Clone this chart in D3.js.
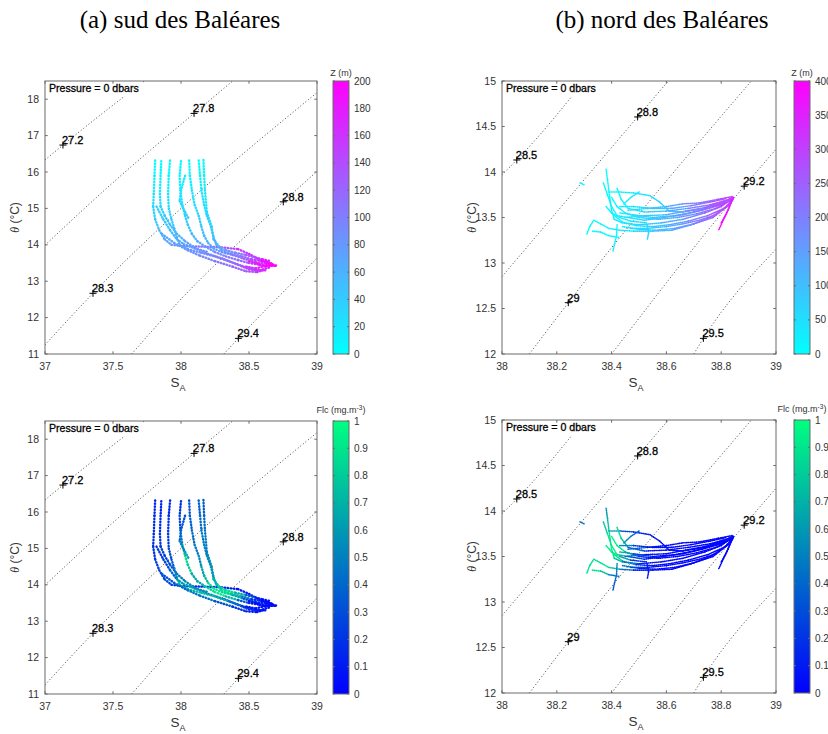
<!DOCTYPE html>
<meta charset="utf-8">
<head>
<script src="https://cdnjs.cloudflare.com/ajax/libs/d3/7.8.5/d3.min.js"></script>
<style>
  body { margin: 0; background: #fff; }
  text { font-family: "Liberation Sans", Arial, sans-serif; }
</style>
</head>
<body>
<div id="chart"></div>
<script>
// ---- tick values ----
const sudSTicks = [37, 37.5, 38, 38.5, 39];
const sudTTicks = [11, 12, 13, 14, 15, 16, 17, 18];
const nordSTicks = [38, 38.2, 38.4, 38.6, 38.8, 39];
const nordTTicks = [12, 12.5, 13, 13.5, 14, 14.5, 15];
const zTicksSud = [0, 20, 40, 60, 80, 100, 120, 140, 160, 180, 200];
const zTicksNord = [0, 50, 100, 150, 200, 250, 300, 350, 400];
const flcTicks = [0, 0.1, 0.2, 0.3, 0.4, 0.5, 0.6, 0.7, 0.8, 0.9, 1];

// ---- isopycnals (sigma0), points [SA, theta] ----
const sudIsopycnals = [
  [[37.0, 16.33], [37.132, 16.74], [37.73, 18.5]],
  [[37.0, 13.99], [37.5, 15.71], [38.096, 17.61], [38.38, 18.5]],
  [[37.0, 11.25], [37.353, 12.667], [38.0, 15.0], [39.0, 18.18]],
  [[37.637, 11.0], [37.993, 12.48], [38.752, 15.18], [39.0, 16.02]],
  [[38.315, 11.0], [38.422, 11.43], [39.0, 13.63]]
];
const sudIsoLabels = [["27.2", 37.132, 16.74], ["27.8", 38.096, 17.61], ["28.3", 37.353, 12.667],
                      ["28.8", 38.752, 15.18], ["29.4", 38.422, 11.43]];

const nordIsopycnals = [
  [[38.0, 13.97], [38.054, 14.132], [38.30, 15.0]],
  [[38.0, 12.85], [38.495, 14.605], [38.607, 15.0]],
  [[38.10, 12.0], [38.242, 12.564], [38.91, 15.0]],
  [[38.40, 12.0], [38.884, 13.844], [39.0, 14.25]],
  [[38.70, 12.0], [38.735, 12.172], [39.0, 13.15]]
];
const nordIsoLabels = [["28.5", 38.054, 14.132], ["28.8", 38.495, 14.605], ["29", 38.242, 12.564],
                       ["29.2", 38.884, 13.844], ["29.5", 38.735, 12.172]];

// ---- profiles: [SA, theta, Z (m), Flc (mg/m3)] ----
const sudProfiles = [
  [[37.81,16.32,0,0.15],[37.805,15.9,8,0.15],[37.80,15.4,18,0.18],[37.795,15.05,28,0.2],[37.81,14.7,40,0.22],[37.84,14.4,52,0.25],[37.88,14.15,65,0.3],[37.93,14.0,80,0.25],[38.02,13.96,95,0.2],[38.15,13.95,110,0.15],[38.3,13.93,130,0.12],[38.42,13.88,150,0.1],[38.5,13.75,170,0.08],[38.58,13.58,185,0.06],[38.67,13.45,200,0.05]],
  [[37.855,16.3,0,0.15],[37.85,15.9,8,0.15],[37.845,15.4,18,0.2],[37.85,15.05,28,0.22],[37.88,14.8,38,0.25],[37.92,14.55,48,0.3],[37.97,14.3,58,0.35],[38.03,14.1,68,0.6],[38.1,13.92,80,0.5],[38.2,13.75,95,0.4],[38.32,13.6,110,0.3],[38.42,13.45,125,0.2],[38.5,13.32,140,0.15],[38.58,13.3,160,0.1],[38.65,13.38,190,0.05]],
  [[37.92,16.32,0,0.15],[37.91,15.9,8,0.18],[37.905,15.4,18,0.22],[37.91,15.0,28,0.25],[37.93,14.7,38,0.3],[37.95,14.45,48,0.4],[37.97,14.2,58,0.6],[37.99,14.0,68,0.85],[38.05,13.88,78,0.8],[38.15,13.78,88,0.7],[38.25,13.68,98,0.8],[38.35,13.55,110,0.6],[38.45,13.42,125,0.3],[38.55,13.3,145,0.15],[38.62,13.3,165,0.1]],
  [[38.0,16.3,0,0.2],[37.99,15.9,8,0.25],[37.995,15.5,16,0.3],[38.01,15.1,26,0.6],[38.03,14.8,34,0.85],[38.05,14.55,42,0.9],[38.08,14.3,52,0.7],[38.12,14.1,62,0.6],[38.18,13.95,72,0.75],[38.25,13.8,85,0.95],[38.33,13.68,100,0.9],[38.42,13.58,115,0.5],[38.5,13.5,135,0.2],[38.58,13.45,160,0.1],[38.66,13.42,190,0.05]],
  [[38.06,16.32,0,0.3],[38.065,15.9,8,0.35],[38.08,15.5,16,0.4],[38.1,15.1,25,0.45],[38.13,14.8,33,0.5],[38.15,14.5,42,0.6],[38.17,14.25,52,0.65],[38.2,14.05,62,0.8],[38.24,13.9,72,0.9],[38.3,13.8,85,0.9],[38.38,13.72,100,0.8],[38.46,13.62,120,0.4],[38.55,13.52,145,0.15],[38.63,13.48,175,0.05],[38.7,13.43,200,0.03]],
  [[38.13,16.32,0,0.35],[38.14,15.9,8,0.4],[38.15,15.5,15,0.45],[38.17,15.1,24,0.5],[38.19,14.8,32,0.55],[38.22,14.5,42,0.6],[38.24,14.2,52,0.6],[38.26,14.0,62,0.7],[38.3,13.85,75,0.85],[38.37,13.75,90,0.9],[38.45,13.68,110,0.6],[38.52,13.6,135,0.3],[38.6,13.55,165,0.1],[38.68,13.47,195,0.03]],
  [[38.165,16.33,0,0.35],[38.17,15.9,6,0.4],[38.176,15.5,14,0.45],[38.19,14.9,26,0.5],[38.225,14.5,38,0.55],[38.24,14.15,50,0.65],[38.28,13.95,62,0.8],[38.33,13.85,75,0.9],[38.4,13.78,92,0.85],[38.48,13.72,115,0.5],[38.55,13.65,140,0.2],[38.6,13.6,165,0.08],[38.66,13.55,190,0.04]],
  [[37.82,15.05,30,0.2],[37.87,14.7,40,0.25],[37.92,14.4,50,0.3],[37.97,14.15,60,0.5],[38.02,14.02,70,0.7],[38.1,13.9,80,0.6],[38.2,13.8,90,0.5]],
  [[37.86,14.3,60,0.3],[37.95,14.05,70,0.35],[38.05,13.85,80,0.4],[38.14,13.7,90,0.5],[38.25,13.55,100,0.4],[38.38,13.4,115,0.25],[38.48,13.27,130,0.15],[38.56,13.25,150,0.1],[38.62,13.32,175,0.05]],
  [[38.5,13.55,170,0.05],[38.56,13.48,185,0.04],[38.62,13.4,195,0.03],[38.68,13.45,200,0.02],[38.64,13.52,198,0.03],[38.58,13.58,190,0.04]],
  [[38.48,13.4,150,0.08],[38.55,13.35,170,0.05],[38.62,13.42,190,0.04],[38.7,13.42,200,0.03]],
  [[38.03,15.9,10,0.3],[38.0,15.5,18,0.35],[37.99,15.2,24,0.4],[38.03,14.9,32,0.6],[38.06,14.7,38,0.7]]
];

const nordProfiles = [
  [[38.38,14.03,0,0.55],[38.385,13.92,4,0.65],[38.39,13.8,8,0.8],[38.395,13.68,14,0.9],[38.40,13.58,20,0.95],[38.41,13.48,30,0.9],[38.44,13.44,45,0.6],[38.5,13.42,70,0.15],[38.58,13.44,110,0.05],[38.66,13.48,160,0.03],[38.74,13.55,220,0.02],[38.8,13.62,280,0.02],[38.845,13.72,330,0.02]],
  [[38.39,13.78,6,0.85],[38.43,13.78,15,0.4],[38.48,13.77,30,0.15],[38.54,13.74,50,0.1],[38.575,13.67,65,0.08],[38.61,13.57,85,0.06],[38.66,13.56,130,0.04],[38.74,13.6,210,0.02],[38.81,13.67,290,0.02],[38.845,13.73,330,0.02]],
  [[38.31,13.32,0,0.9],[38.32,13.4,3,0.9],[38.335,13.47,6,0.85],[38.36,13.43,10,0.9],[38.39,13.38,18,0.9],[38.43,13.36,30,0.7],[38.48,13.35,50,0.15],[38.55,13.35,85,0.05],[38.62,13.36,125,0.03],[38.69,13.42,175,0.02],[38.76,13.5,235,0.02],[38.82,13.62,300,0.02],[38.845,13.71,330,0.02]],
  [[38.40,13.72,0,0.95],[38.42,13.62,10,0.95],[38.45,13.55,25,0.85],[38.5,13.5,50,0.2],[38.57,13.48,90,0.05],[38.64,13.5,140,0.03],[38.71,13.54,190,0.02],[38.78,13.6,255,0.02],[38.835,13.69,320,0.02]],
  [[38.42,13.82,0,0.85],[38.435,13.7,10,0.9],[38.46,13.6,28,0.6],[38.52,13.56,60,0.1],[38.6,13.57,110,0.05],[38.68,13.6,170,0.03],[38.76,13.64,240,0.02],[38.83,13.7,310,0.02]],
  [[38.41,13.52,0,0.9],[38.44,13.45,15,0.85],[38.49,13.41,40,0.2],[38.55,13.4,75,0.05],[38.61,13.42,115,0.04],[38.68,13.46,170,0.03],[38.75,13.52,230,0.02],[38.81,13.6,290,0.02],[38.845,13.7,330,0.02]],
  [[38.37,13.88,0,0.7],[38.385,13.75,5,0.85],[38.4,13.62,12,0.95],[38.42,13.52,22,0.95],[38.46,13.5,38,0.5],[38.52,13.47,65,0.1],[38.59,13.5,105,0.04],[38.66,13.53,150,0.03],[38.73,13.58,205,0.02],[38.8,13.64,270,0.02],[38.84,13.7,320,0.02]],
  [[38.43,13.62,15,0.8],[38.48,13.62,35,0.3],[38.55,13.6,70,0.08],[38.62,13.6,120,0.04],[38.69,13.63,180,0.03],[38.76,13.67,245,0.02],[38.82,13.71,305,0.02]],
  [[38.44,13.4,25,0.85],[38.5,13.37,55,0.1],[38.56,13.36,95,0.04],[38.63,13.38,140,0.03],[38.7,13.43,190,0.02],[38.77,13.5,250,0.02],[38.83,13.64,315,0.02]],
  [[38.45,13.5,28,0.75],[38.52,13.52,60,0.1],[38.6,13.53,110,0.04],[38.67,13.57,160,0.03],[38.74,13.61,220,0.02],[38.81,13.68,290,0.02]],
  [[38.46,13.58,35,0.7],[38.53,13.6,65,0.1],[38.6,13.62,115,0.04],[38.66,13.65,165,0.03],[38.72,13.66,210,0.02],[38.79,13.7,275,0.02],[38.84,13.73,325,0.02]],
  [[38.47,13.38,40,0.5],[38.53,13.38,70,0.05],[38.6,13.4,110,0.03],[38.66,13.43,155,0.02],[38.72,13.47,205,0.02],[38.78,13.53,260,0.02]],
  [[38.43,13.55,25,0.9],[38.48,13.53,45,0.4],[38.55,13.5,85,0.05],[38.63,13.52,135,0.03],[38.7,13.56,185,0.02],[38.77,13.62,250,0.02],[38.83,13.68,310,0.02]],
  [[38.42,13.42,10,0.5],[38.418,13.3,14,0.4],[38.41,13.2,18,0.35],[38.405,13.13,22,0.3]],
  [[38.53,13.42,65,0.1],[38.535,13.33,70,0.08],[38.53,13.25,75,0.08]],
  [[38.845,13.72,330,0.02],[38.825,13.58,365,0.02],[38.79,13.36,400,0.02]],
  [[38.84,13.7,340,0.02],[38.82,13.55,375,0.02],[38.8,13.44,395,0.02]],
  [[38.285,13.88,0,0.45],[38.3,13.86,2,0.45]],
  [[38.38,13.62,0,0.9],[38.4,13.55,8,0.95],[38.43,13.5,20,0.9],[38.47,13.46,40,0.3],[38.53,13.44,70,0.08]],
  [[38.33,13.35,0,0.9],[38.36,13.34,5,0.9],[38.39,13.3,10,0.6],[38.43,13.28,20,0.3]],
  [[38.445,13.65,20,0.6],[38.47,13.72,30,0.5],[38.5,13.78,45,0.3]]
];

// MATLAB "cool" and "winter" colormaps
const coolMap = ["#00ffff", "#ff00ff"];
const winterMap = ["#0000ff", "#00ff80"];

const width = 828, height = 734;
const svg = d3.select("#chart").append("svg")
  .attr("width", width).attr("height", height)
  .style("background", "#fff");
const defs = svg.append("defs");

const panels = [
  {id: "a", x0: 45, y0: 81, w: 272, h: 273, sDom: [37, 39], tDom: [11, 18.5], sTicks: sudSTicks, tTicks: sudTTicks,
   iso: sudIsopycnals, isoLab: sudIsoLabels, prof: sudProfiles, k: 2, cmap: coolMap, cDom: [0, 200], cTicks: zTicksSud,
   cbX: 333, cbTitle: "Z (m)", title: "(a) sud des Baléares", titleX: 180, sw: 2.4, dash: "0.5 2.5"},
  {id: "b", x0: 502, y0: 81, w: 274, h: 273, sDom: [38, 39], tDom: [12, 15], sTicks: nordSTicks, tTicks: nordTTicks,
   iso: nordIsopycnals, isoLab: nordIsoLabels, prof: nordProfiles, k: 2, cmap: coolMap, cDom: [0, 400], cTicks: zTicksNord,
   cbX: 794, cbTitle: "Z (m)", title: "(b) nord des Baléares", titleX: 662, sw: 1.6, dash: "0.5 1.4"},
  {id: "c", x0: 45, y0: 421, w: 272, h: 273, sDom: [37, 39], tDom: [11, 18.5], sTicks: sudSTicks, tTicks: sudTTicks,
   iso: sudIsopycnals, isoLab: sudIsoLabels, prof: sudProfiles, k: 3, cmap: winterMap, cDom: [0, 1], cTicks: flcTicks,
   cbX: 333, cbTitle: "Flc", title: null, sw: 2.4, dash: "0.5 2.5"},
  {id: "d", x0: 502, y0: 420, w: 274, h: 273, sDom: [38, 39], tDom: [12, 15], sTicks: nordSTicks, tTicks: nordTTicks,
   iso: nordIsopycnals, isoLab: nordIsoLabels, prof: nordProfiles, k: 3, cmap: winterMap, cDom: [0, 1], cTicks: flcTicks,
   cbX: 794, cbTitle: "Flc", title: null, sw: 1.6, dash: "0.5 1.4"}
];

const axisCol = "#333";
const boxCol = "#6a6a6a";

panels.forEach(p => {
  const sx = d3.scaleLinear().domain(p.sDom).range([p.x0, p.x0 + p.w]);
  const ty = d3.scaleLinear().domain(p.tDom).range([p.y0 + p.h, p.y0]);
  const color = d3.scaleLinear().domain(p.cDom).range(p.cmap).clamp(true);

  defs.append("clipPath").attr("id", "clip" + p.id)
    .append("rect").attr("x", p.x0).attr("y", p.y0).attr("width", p.w).attr("height", p.h);

  const g = svg.append("g");
  const plot = g.append("g").attr("clip-path", `url(#clip${p.id})`);

  // isopycnals
  const line = d3.line().x(d => sx(d[0])).y(d => ty(d[1])).curve(d3.curveMonotoneX);
  plot.selectAll(".iso").data(p.iso).enter().append("path")
    .attr("d", line).attr("fill", "none")
    .attr("stroke", "#444").attr("stroke-width", 1)
    .attr("stroke-dasharray", "1 2.3");

  // profiles, one segment at a time so the colour follows depth / Flc
  p.prof.forEach(pr => {
    for (let i = 1; i < pr.length; i++) {
      const a = pr[i - 1], b = pr[i];
      plot.append("line")
        .attr("x1", sx(a[0])).attr("y1", ty(a[1]))
        .attr("x2", sx(b[0])).attr("y2", ty(b[1]))
        .attr("stroke", color((a[p.k] + b[p.k]) / 2))
        .attr("stroke-width", p.sw)
        .attr("stroke-linecap", "round")
        .attr("stroke-dasharray", p.dash);
    }
  });

  // contour label markers
  p.isoLab.forEach(l => {
    const x = sx(l[1]), y = ty(l[2]);
    plot.append("path").attr("d", `M${x - 3.5},${y}H${x + 3.5}M${x},${y - 3.5}V${y + 3.5}`)
      .attr("stroke", "#000").attr("stroke-width", 1);
    plot.append("text").attr("x", x - 1).attr("y", y - 1)
      .attr("font-size", 11).attr("fill", "#000")
      .attr("stroke", "#000").attr("stroke-width", 0.3).text(l[0]);
  });

  // "Pressure" text box
  g.append("rect").attr("x", p.x0 + 1).attr("y", p.y0 + 1).attr("width", 96).attr("height", 14).attr("fill", "#fff");
  g.append("text").attr("x", p.x0 + 4).attr("y", p.y0 + 11)
    .attr("font-size", 10.6).attr("fill", "#000")
    .attr("stroke", "#000").attr("stroke-width", 0.3).text("Pressure = 0 dbars");

  // box + inward ticks
  g.append("rect").attr("x", p.x0).attr("y", p.y0).attr("width", p.w).attr("height", p.h)
    .attr("fill", "none").attr("stroke", boxCol).attr("stroke-width", 1);
  const tl = 2.7;
  p.sTicks.forEach(v => {
    const x = sx(v);
    g.append("path").attr("d", `M${x},${p.y0 + p.h}v${-tl}M${x},${p.y0}v${tl}`).attr("stroke", boxCol);
    g.append("text").attr("x", x).attr("y", p.y0 + p.h + 16).attr("text-anchor", "middle")
      .attr("font-size", 10.5).attr("fill", axisCol).text(v);
  });
  p.tTicks.forEach(v => {
    const y = ty(v);
    g.append("path").attr("d", `M${p.x0},${y}h${tl}M${p.x0 + p.w},${y}h${-tl}`).attr("stroke", boxCol);
    g.append("text").attr("x", p.x0 - 6).attr("y", y).attr("dy", "0.35em").attr("text-anchor", "end")
      .attr("font-size", 10.5).attr("fill", axisCol).text(v);
  });

  // axis labels
  const xl = g.append("text").attr("x", p.x0 + p.w / 2 - 3).attr("y", p.y0 + p.h + 33)
    .attr("text-anchor", "middle").attr("font-size", 13.5).attr("fill", axisCol);
  xl.append("tspan").text("S");
  xl.append("tspan").attr("font-size", 9).attr("dy", 4).text("A");
  const yl = g.append("text")
    .attr("transform", `translate(${p.x0 - 26},${p.y0 + p.h / 2}) rotate(-90)`)
    .attr("text-anchor", "middle").attr("font-size", 12).attr("fill", axisCol);
  yl.append("tspan").attr("font-style", "italic").attr("font-family", "'Liberation Serif', serif").text("θ");
  yl.append("tspan").text(" (°C)");

  // colorbar
  const cbW = 16;
  const grad = defs.append("linearGradient").attr("id", "grad" + p.id)
    .attr("x1", 0).attr("y1", 1).attr("x2", 0).attr("y2", 0);
  grad.append("stop").attr("offset", 0).attr("stop-color", p.cmap[0]);
  grad.append("stop").attr("offset", 1).attr("stop-color", p.cmap[1]);
  const cy = d3.scaleLinear().domain(p.cDom).range([p.y0 + p.h, p.y0]);
  g.append("rect").attr("x", p.cbX).attr("y", p.y0).attr("width", cbW).attr("height", p.h)
    .attr("fill", `url(#grad${p.id})`).attr("stroke", boxCol).attr("stroke-width", 1);
  p.cTicks.forEach(v => {
    const y = cy(v);
    g.append("path").attr("d", `M${p.cbX},${y}h2M${p.cbX + cbW},${y}h-2`).attr("stroke", boxCol);
    g.append("text").attr("x", p.cbX + cbW + 5).attr("y", y).attr("dy", "0.35em")
      .attr("font-size", 10).attr("fill", axisCol).text(v);
  });
  const isFlc = p.cbTitle === "Flc";
  const ct = g.append("text").attr("x", p.cbX + cbW / 2).attr("y", p.y0 - (isFlc ? 8 : 5))
    .attr("text-anchor", "middle").attr("font-size", 9).attr("fill", axisCol);
  if (isFlc) {
    ct.append("tspan").text("Flc (mg.m");
    ct.append("tspan").attr("font-size", 6.5).attr("dy", -3).text("-3");
    ct.append("tspan").attr("dy", 3).text(")");
  } else {
    ct.text(p.cbTitle);
  }

  if (p.title) {
    svg.append("text").attr("x", p.titleX).attr("y", 28).attr("text-anchor", "middle")
      .style("font-family", "'Liberation Serif', 'DejaVu Serif', serif")
      .attr("font-size", 25).attr("fill", "#000").text(p.title);
  }
});
</script>
</body>
</html>
